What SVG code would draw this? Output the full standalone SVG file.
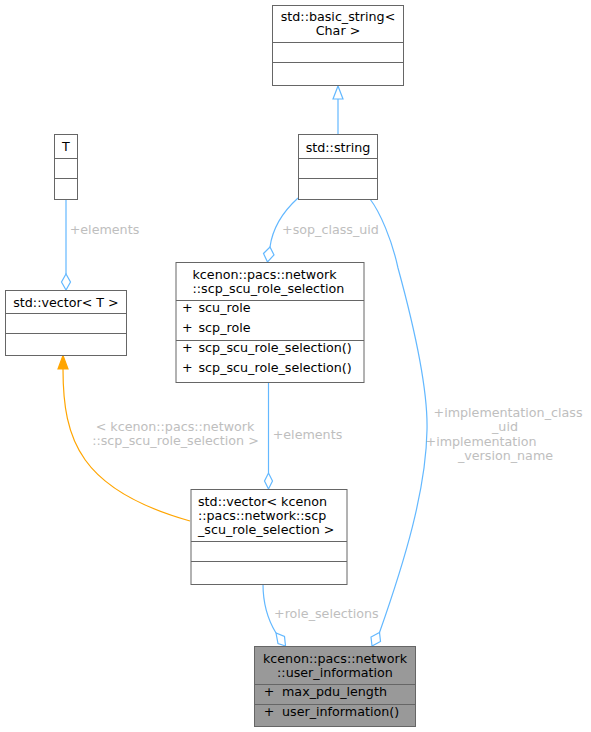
<svg xmlns="http://www.w3.org/2000/svg" width="591" height="732" viewBox="0 0 591 732">
<style>
text{font-family:"DejaVu Sans",sans-serif;font-size:12.7px;fill:#000}
.box{fill:#fff;stroke:#666;stroke-width:1}
.sel{fill:#999;stroke:#666;stroke-width:1}
.sep{stroke:#666;stroke-width:1;fill:none}
.e{fill:none;stroke:#63b8ff;stroke-width:1.2}
.eo{fill:none;stroke:#ffa500;stroke-width:1.2}
.dia{fill:#fff;stroke:#63b8ff;stroke-width:1.2}
.lbl{fill:#bebebe}
.m{text-anchor:middle}
</style>
<rect width="591" height="732" fill="#fff"/>
<g id="connectors">
  <g id="e_inherit">
    <path class="e" d="M338,134 L338,99"/>
    <polygon class="dia" points="338,86 333,99 343,99"/>
  </g>
  <g id="e_T_elements">
    <path class="e" d="M66,200 L66,274"/>
    <polygon class="dia" points="66,290 61.5,282 66,274 70.5,282"/>
    <text class="lbl" x="69.7" y="234">+elements</text>
  </g>
  <g id="e_sop">
    <path class="e" d="M298,198 C287,208 273,225 270,247"/>
    <polygon class="dia" points="267.5,262 263.5,253.5 270,247 274,255"/>
    <text class="lbl" x="282" y="234.3">+sop_class_uid</text>
  </g>
  <g id="e_impl">
    <path class="e" d="M370,199 C380,212 392,240 398,268 C415,330 428,390 427,430 C426,490 405,560 379.5,632.5"/>
    <polygon class="dia" points="372,646 371,637 379.5,632.5 380.5,641.5"/>
    <text class="lbl m" x="508" y="416.7">+implementation_class</text>
    <text class="lbl m" x="505" y="431">_uid</text>
    <text class="lbl" x="425.5" y="445.5">+implementation</text>
    <text class="lbl m" x="505.5" y="459.5">_version_name</text>
  </g>
  <g id="e_scp_elements">
    <path class="e" d="M268.5,383 L268.5,473"/>
    <polygon class="dia" points="268.5,489 264.5,481 268.5,473 272.5,481"/>
    <text class="lbl" x="272.7" y="439">+elements</text>
  </g>
  <g id="e_template">
    <path class="eo" d="M190,521 C80,490 63,440 63,369"/>
    <polygon points="63,355.5 58,369 68,369" fill="#ffa500" stroke="#ffa500" stroke-width="1.2"/>
    <text class="lbl m" x="175" y="430.5">&lt; kcenon::pacs::network</text>
    <text class="lbl m" x="175.5" y="445">::scp_scu_role_selection &gt;</text>
  </g>
  <g id="e_role">
    <path class="e" d="M263,584 C263,605 268,620 276,633"/>
    <polygon class="dia" points="285.5,646 278,643.5 276,633 284.5,636.5"/>
    <text class="lbl" x="274" y="618.3">+role_selections</text>
  </g>
</g>
<g id="node_basic_string">
  <rect class="box" x="272.5" y="5.5" width="131" height="80"/>
  <path class="sep" d="M272.5,42.5H403.5M272.5,62.5H403.5"/>
  <text class="m" x="338" y="21">std::basic_string&lt;</text>
  <text class="m" x="338" y="35">Char &gt;</text>
</g>
<g id="node_string">
  <rect class="box" x="298.5" y="134.5" width="79" height="65"/>
  <path class="sep" d="M298.5,158.5H377.5M298.5,178.5H377.5"/>
  <text class="m" x="338" y="151.5">std::string</text>
</g>
<g id="node_T">
  <rect class="box" x="54.5" y="134.5" width="23" height="65"/>
  <path class="sep" d="M54.5,158.5H77.5M54.5,178.5H77.5"/>
  <text class="m" x="66" y="151">T</text>
</g>
<g id="node_vector_T">
  <rect class="box" x="5.5" y="290.5" width="121" height="65"/>
  <path class="sep" d="M5.5,313.5H126.5M5.5,333.5H126.5"/>
  <text class="m" x="66" y="306.5">std::vector&lt; T &gt;</text>
</g>
<g id="node_scp_scu_role_selection">
  <rect class="box" x="176" y="262.5" width="188" height="120"/>
  <path class="sep" d="M176,300.5H364M176,340.5H364"/>
  <text x="192.5" y="278.5">kcenon::pacs::network</text>
  <text x="192.5" y="292.5">::scp_scu_role_selection</text>
  <text y="311.5"><tspan x="182">+</tspan><tspan x="198.5">scu_role</tspan></text>
  <text y="331.5"><tspan x="182">+</tspan><tspan x="198.5">scp_role</tspan></text>
  <text y="351.5"><tspan x="182">+</tspan><tspan x="198.5">scp_scu_role_selection()</tspan></text>
  <text y="371.5"><tspan x="182">+</tspan><tspan x="198.5">scp_scu_role_selection()</tspan></text>
</g>
<g id="node_vector_scp">
  <rect class="box" x="191" y="489.5" width="156" height="95"/>
  <path class="sep" d="M191,541.5H347M191,561.5H347"/>
  <text x="198" y="506">std::vector&lt; kcenon</text>
  <text x="198" y="520">::pacs::network::scp</text>
  <text x="198" y="534.3">_scu_role_selection &gt;</text>
</g>
<g id="node_user_information">
  <rect class="sel" x="254.5" y="646.5" width="161" height="80"/>
  <path class="sep" d="M254.5,684.5H415.5M254.5,704.5H415.5"/>
  <text class="m" x="335" y="662.5">kcenon::pacs::network</text>
  <text class="m" x="335" y="676.5">::user_information</text>
  <text y="696"><tspan x="263.7">+</tspan><tspan x="282">max_pdu_length</tspan></text>
  <text y="716"><tspan x="263.7">+</tspan><tspan x="282">user_information()</tspan></text>
</g>
</svg>
